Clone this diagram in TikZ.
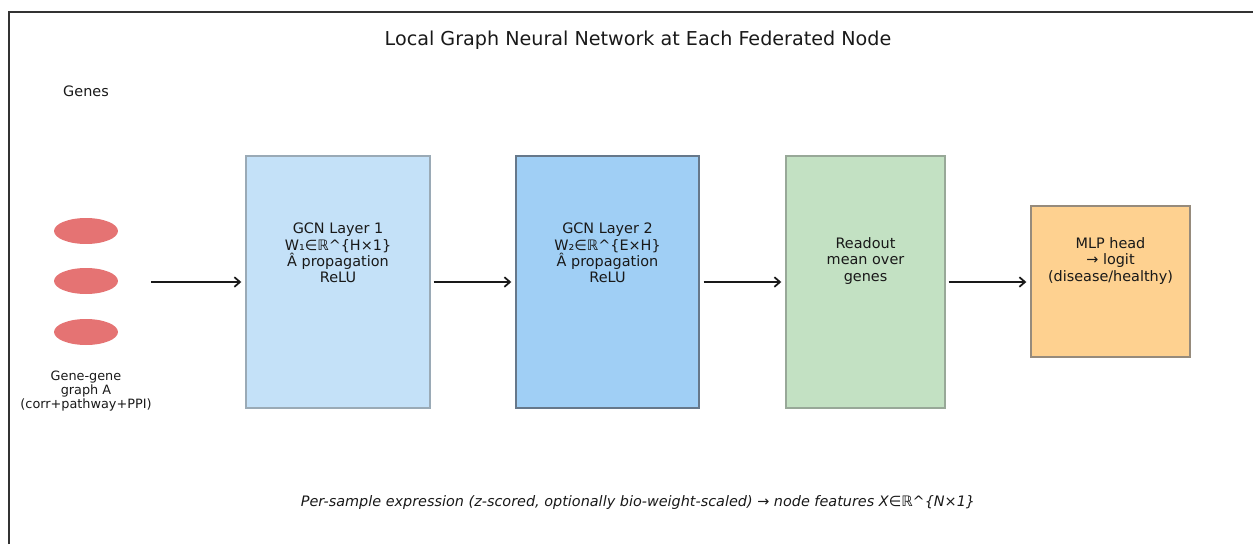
\documentclass[tikz,border=0pt]{standalone}
\usepackage{fontspec}
\setmainfont{DejaVu Sans}
\usetikzlibrary{arrows.meta,shapes.geometric}

\definecolor{layerone}{HTML}{C4E1F8}
\definecolor{layertwo}{HTML}{A0CFF5}
\definecolor{readoutc}{HTML}{C3E1C3}
\definecolor{mlpc}{HTML}{FED190}
\definecolor{genec}{HTML}{E57373}
\definecolor{framec}{HTML}{333333}
\definecolor{edgeone}{HTML}{9AAAB6}
\definecolor{edgetwo}{HTML}{66788A}
\definecolor{edgethree}{HTML}{98A898}
\definecolor{edgefour}{HTML}{968B7C}

\tikzset{
  block/.style={rectangle, draw=#1, line width=0.8pt, inner sep=0pt},
  blocktext/.style={font=\fontsize{8.2}{9.3}\selectfont, align=center, anchor=south, inner sep=0pt, text=black!90},
  gene/.style={ellipse, fill=genec, draw=none, minimum width=1.28cm, minimum height=0.52cm, inner sep=0pt},
  flow/.style={-{Straight Barb[length=3.2pt,width=5.5pt,line width=1pt]}, line width=0.9pt, black!90},
  lbl/.style={inner sep=0pt, text=black!90}
}

\begin{document}
\begin{tikzpicture}[x=0.02cm, y=-0.02cm]
  \useasboundingbox (0,0) rectangle (1253,544);

  % frame edges
  \draw[framec, line width=0.9pt] (9,544) -- (9,12) -- (1253,12);

  % title
  \node[lbl, font=\fontsize{10.9}{12}\selectfont] (title) at (638,40) {Local Graph Neural Network at Each Federated Node};

  % gene column
  \node[lbl, font=\fontsize{8.2}{9.3}\selectfont] (genes) at (86,91) {Genes};
  \node[gene] (g1) at (86,231) {};
  \node[gene] (g2) at (86,281) {};
  \node[gene] (g3) at (86,332) {};
  \node[lbl, font=\fontsize{7.3}{8}\selectfont, align=center, anchor=north] (graphA) at (86,371)
    {Gene-gene\\graph A\\(corr+pathway+PPI)};

  % processing blocks
  \node[block=edgeone, fill=layerone, minimum width=3.68cm, minimum height=5.04cm] (gcn1) at (338,282) {};
  \node[block=edgetwo, fill=layertwo, minimum width=3.66cm, minimum height=5.04cm] (gcn2) at (607.5,282) {};
  \node[block=edgethree, fill=readoutc, minimum width=3.18cm, minimum height=5.04cm] (readout) at (865.5,282) {};
  \node[block=edgefour, fill=mlpc, minimum width=3.18cm, minimum height=3.02cm] (mlp) at (1110.5,281.5) {};

  \node[blocktext] (t1) at (338,283.5)
    {GCN Layer 1\\W₁∈ℝ\textasciicircum\{H×1\}\\Â propagation\\ReLU};
  \node[blocktext] (t2) at (607.5,283.5)
    {GCN Layer 2\\W₂∈ℝ\textasciicircum\{E×H\}\\Â propagation\\ReLU};
  \node[blocktext] (t3) at (865.5,284.5)
    {Readout\\mean over\\genes};
  \node[blocktext] (t4) at (1110.5,284.5)
    {MLP head\\→ logit\\(disease/healthy)};

  % connectors
  \coordinate (src) at (151,282);
  \draw[flow] (src) -- ([xshift=-0.08cm]gcn1.west |- src);
  \draw[flow] ([xshift=0.06cm]gcn1.east |- src) -- ([xshift=-0.08cm]gcn2.west |- src);
  \draw[flow] ([xshift=0.08cm]gcn2.east |- src) -- ([xshift=-0.08cm]readout.west |- src);
  \draw[flow] ([xshift=0.06cm]readout.east |- src) -- ([xshift=-0.08cm]mlp.west |- src);

  % caption
  \node[lbl, font=\fontsize{8.2}{9.3}\selectfont\itshape] (caption) at (638,503)
    {Per-sample expression (z-scored, optionally bio-weight-scaled) → node features X∈ℝ\textasciicircum\{N×1\}};
\end{tikzpicture}
\end{document}
